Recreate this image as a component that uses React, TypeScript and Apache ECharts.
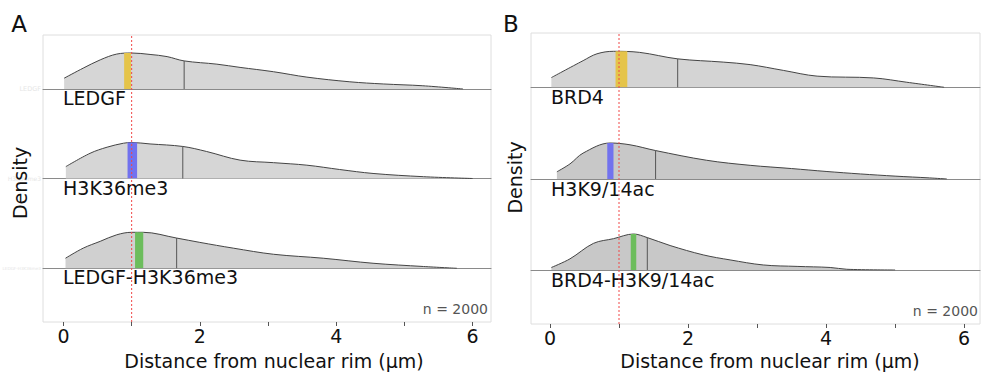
import React, { useEffect, useRef } from "react";
import * as echarts from "echarts";

// ---------- data ----------
const TICK_VALUES = [0, 1, 2, 3, 4, 5, 6];
const TICK_LABELS = [0, 2, 4, 6];
const THRESHOLD = 1;
const SAMPLE_SIZE = 2000;
const X_LABEL = "Distance from nuclear rim (μm)";
const Y_LABEL = "Density";
const PANEL_LETTERS = ["A", "B"];

const namesA = ["LEDGF", "H3K36me3", "LEDGF-H3K36me3"];
const namesB = ["BRD4", "H3K9/14ac", "BRD4-H3K9/14ac"];

// density curves (x in μm, relative density, peak = 1)
const ledgf: number[][] = [
  [0.01, 0.3], [0.29, 0.58], [0.54, 0.81], [0.78, 0.97], [1.0, 1.0], [1.27, 0.96],
  [1.52, 0.9], [1.77, 0.78], [2.25, 0.69], [2.59, 0.6], [3.08, 0.48], [3.57, 0.33],
  [4.2, 0.2], [4.69, 0.14], [5.27, 0.09], [5.86, 0.0],
];
const h3k36me3: number[][] = [
  [0.035, 0.33], [0.39, 0.7], [0.64, 0.87], [0.88, 0.98], [1.0, 1.0], [1.27, 0.96],
  [1.75, 0.89], [2.1, 0.75], [2.59, 0.51], [3.08, 0.44], [3.57, 0.37], [4.05, 0.25],
  [4.54, 0.14], [5.28, 0.05], [6.0, 0.0],
];
const ledgfH3k36me3: number[][] = [
  [0.03, 0.28], [0.29, 0.56], [0.54, 0.75], [0.78, 0.93], [1.0, 1.0], [1.17, 1.0],
  [1.66, 0.84], [2.0, 0.72], [2.49, 0.56], [3.08, 0.39], [3.81, 0.28], [4.54, 0.14],
  [5.28, 0.05], [5.77, 0.0],
];
const brd4: number[][] = [
  [0.02, 0.27], [0.48, 0.74], [0.68, 0.93], [0.92, 1.0], [1.3, 0.97], [1.85, 0.79],
  [2.51, 0.7], [2.9, 0.63], [3.38, 0.47], [3.87, 0.31], [4.69, 0.26], [5.17, 0.14],
  [5.71, 0.0],
];
const h3k9ac: number[][] = [
  [0.1, 0.2], [0.29, 0.42], [0.48, 0.72], [0.87, 1.0], [1.16, 0.95], [1.53, 0.79],
  [2.27, 0.52], [2.9, 0.38], [3.5, 0.29], [4.0, 0.21], [4.5, 0.14], [5.0, 0.08],
  [5.5, 0.03], [5.75, 0.0],
];
const brd4H3k9ac: number[][] = [
  [0.02, 0.07], [0.29, 0.31], [0.63, 0.74], [0.92, 0.87], [1.21, 1.0], [1.41, 0.9],
  [1.74, 0.68], [2.22, 0.42], [2.61, 0.28], [3.09, 0.14], [3.58, 0.1], [4.06, 0.07],
  [4.3, 0.02], [5.0, 0.0],
];

// highlighted bands: [start, end, height]
const bandsA: number[][] = [[0.89, 0.99, 1.0], [0.94, 1.08, 1.0], [1.05, 1.17, 1.0]];
const bandsB: number[][] = [[0.95, 1.12, 1.0], [0.83, 0.92, 1.0], [1.17, 1.25, 1.0]];
// median lines: [x, height]
const mediansA: number[][] = [[1.77, 0.78], [1.75, 0.89], [1.66, 0.84]];
const mediansB: number[][] = [[1.85, 0.79], [1.53, 0.79], [1.41, 0.9]];

// ---------- layout / style ----------
const FONT = "DejaVu Sans";
const BAND_COLORS = ["#e5c44a", "#7272ee", "#6cbd5c"];
const RIDGE_H = 40;
const PEAK_PX = 36;
const TEXT_SIZE = 19;

const panels = [
  {
    left: 43, top: 35, width: 448, height: 287, xmin: -0.3, xmax: 6.27,
    baselines: [89, 178.5, 268.3], curves: [ledgf, h3k36me3, ledgfH3k36me3],
    names: namesA, bands: bandsA, medians: mediansA,
    fills: ["#d6d6d6", "#d6d6d6", "#d0d0d0"],
    labelX: 63, labelDy: 11, densityX: 20, densityY: 183, xNameX: 274, nRight: 488, nY: 309,
    letterX: 19, letterY: 24,
  },
  {
    left: 531, top: 33, width: 449, height: 291, xmin: -0.275, xmax: 6.23,
    baselines: [87.3, 179, 270], curves: [brd4, h3k9ac, brd4H3k9ac],
    names: namesB, bands: bandsB, medians: mediansB,
    fills: ["#d4d4d4", "#c8c8c8", "#c8c8c8"],
    labelX: 551, labelDy: 12, densityX: 515, densityY: 177.5, xNameX: 770, nRight: 978, nY: 311,
    letterX: 511, letterY: 24,
  },
];
const GHOST_SIZES = [6.5, 6, 4.2];

export default function App() {
  const ref = useRef<HTMLDivElement>(null);

  useEffect(() => {
    if (!ref.current) return;
    const chart = echarts.init(ref.current, undefined, { renderer: "svg" });

    const grid: any[] = [];
    const xAxis: any[] = [];
    const yAxis: any[] = [];
    const series: any[] = [];
    const graphic: any[] = [];

    panels.forEach((p, pi) => {
      // frame grid
      const fi = grid.length;
      grid.push({
        left: p.left, top: p.top, width: p.width, height: p.height,
        show: true, borderColor: "#dedede", borderWidth: 1, backgroundColor: "transparent",
      });
      xAxis.push({
        type: "value", gridIndex: fi, min: p.xmin, max: p.xmax,
        axisLine: { show: false },
        axisTick: {
          show: true, customValues: TICK_VALUES, length: 4,
          lineStyle: { color: "#555", width: 1 },
        },
        axisLabel: {
          show: true, customValues: TICK_LABELS, fontSize: TEXT_SIZE, color: "#111",
          fontFamily: FONT, margin: 4,
        },
        splitLine: { show: false },
      });
      yAxis.push({ type: "value", gridIndex: fi, min: 0, max: 1, show: false });

      // ridges
      p.curves.forEach((curve, ri) => {
        const gi = grid.length;
        grid.push({
          left: p.left, width: p.width, top: p.baselines[ri] - RIDGE_H, height: RIDGE_H,
          show: false,
        });
        xAxis.push({
          type: "value", gridIndex: gi, min: p.xmin, max: p.xmax,
          axisLine: { show: true, lineStyle: { color: "#8a8a8a", width: 1 } },
          axisTick: { show: false }, axisLabel: { show: false }, splitLine: { show: false },
        });
        yAxis.push({
          type: "value", gridIndex: gi, min: 0, max: RIDGE_H / PEAK_PX, show: false,
        });
        series.push({
          type: "line", xAxisIndex: gi, yAxisIndex: gi, data: curve, smooth: 0.35,
          symbol: "none", lineStyle: { color: "#444", width: 1 },
          areaStyle: { color: p.fills[ri], opacity: 1 }, z: 2, silent: true,
        });
        const b = p.bands[ri];
        series.push({
          type: "line", xAxisIndex: gi, yAxisIndex: gi,
          data: [[b[0], b[2]], [b[1], b[2]]], symbol: "none",
          lineStyle: { width: 0 }, areaStyle: { color: BAND_COLORS[ri], opacity: 1 },
          z: 3, silent: true,
        });
        const m = p.medians[ri];
        series.push({
          type: "line", xAxisIndex: gi, yAxisIndex: gi,
          data: [[m[0], 0], [m[0], m[1]]], symbol: "none",
          lineStyle: { color: "#555", width: 1 }, z: 4, silent: true,
        });
        graphic.push({
          type: "text", left: p.labelX, top: p.baselines[ri] + p.labelDy - 11.5,
          style: { text: p.names[ri], fontSize: TEXT_SIZE, fontFamily: FONT, fill: "#111" },
        });
        if (pi === 0) {
          graphic.push({
            type: "text", x: p.left - 2, y: p.baselines[ri],
            style: {
              text: p.names[ri], fontSize: GHOST_SIZES[ri], fontFamily: FONT, fill: "#e6e6e6",
              align: "right", verticalAlign: "middle",
            },
          });
        }
      });

      // threshold line
      series.push({
        type: "line", xAxisIndex: fi, yAxisIndex: fi,
        data: [[THRESHOLD, 0], [THRESHOLD, 1]], symbol: "none",
        lineStyle: { color: "#f04848", width: 1, type: [2, 2] }, z: 6, silent: true,
      });

      graphic.push(
        {
          type: "text", x: p.letterX, y: p.letterY,
          style: {
            text: PANEL_LETTERS[pi], fontSize: 23, fontFamily: FONT, fill: "#111",
            align: "center", verticalAlign: "middle",
          },
        },
        {
          type: "text", x: p.densityX, y: p.densityY, rotation: Math.PI / 2,
          style: {
            text: Y_LABEL, fontSize: TEXT_SIZE, fontFamily: FONT, fill: "#111",
            align: "center", verticalAlign: "middle",
          },
        },
        {
          type: "text", x: p.xNameX, y: 361,
          style: {
            text: X_LABEL, fontSize: TEXT_SIZE, fontFamily: FONT, fill: "#111",
            align: "center", verticalAlign: "middle",
          },
        },
        {
          type: "text", x: p.nRight, y: p.nY,
          style: {
            text: `n = ${SAMPLE_SIZE}`, fontSize: 14, fontFamily: FONT, fill: "#555",
            align: "right", verticalAlign: "middle",
          },
        }
      );
    });

    chart.setOption({
      animation: false,
      backgroundColor: "#ffffff",
      textStyle: { fontFamily: FONT },
      grid, xAxis, yAxis, series, graphic,
    });

    return () => chart.dispose();
  }, []);

  return (
    <div
      ref={ref}
      style={{ position: "fixed", left: 0, top: 0, width: 981, height: 372 }}
    />
  );
}
